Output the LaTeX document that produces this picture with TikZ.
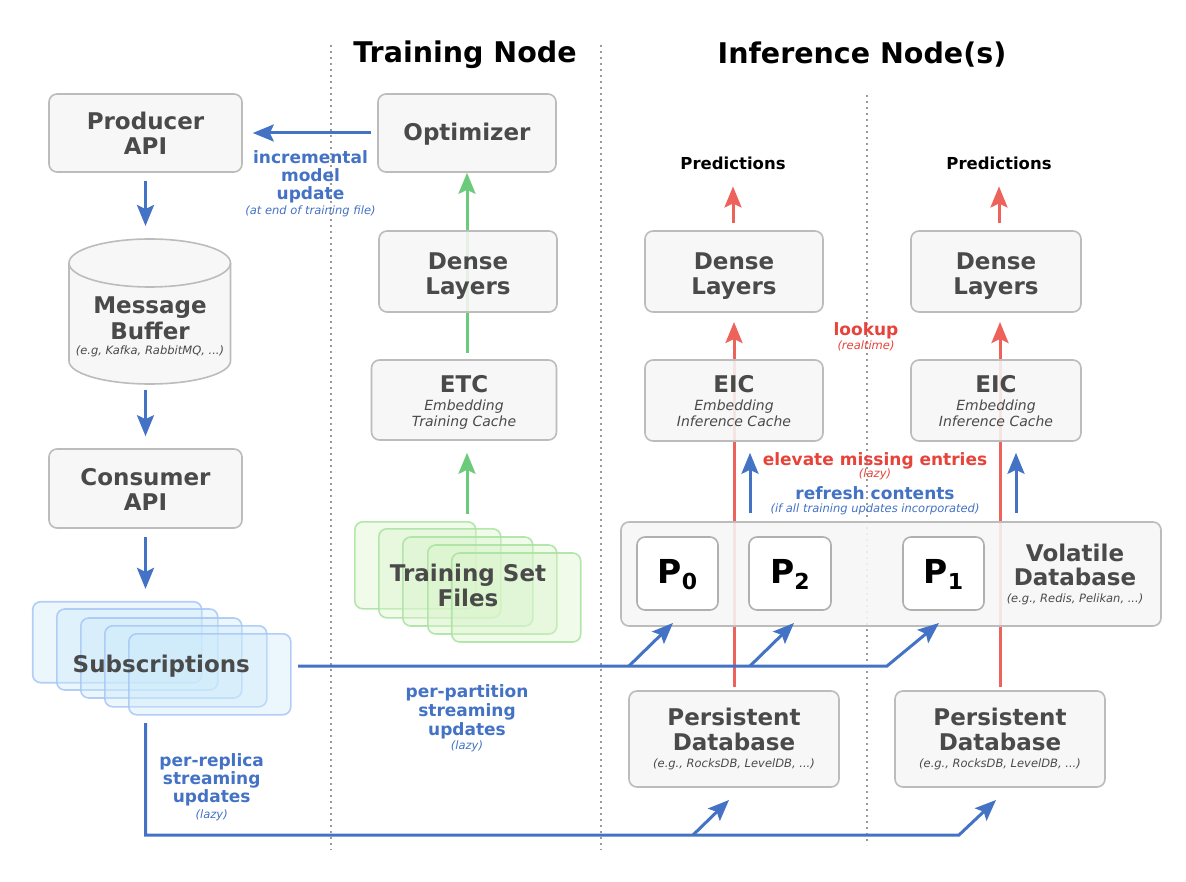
\documentclass[tikz,border=0pt]{standalone}
\usepackage{fontspec}
\setmainfont{DejaVu Sans}
\usetikzlibrary{arrows.meta}
\definecolor{myblue}{HTML}{4472C4}
\definecolor{myred}{HTML}{EE625C}
\definecolor{redtext}{HTML}{E8433B}
\definecolor{mygreen}{HTML}{6BCB7A}
\definecolor{textgray}{HTML}{4A4A4A}
\definecolor{boxline}{HTML}{BCBCBC}
\definecolor{boxfill}{HTML}{F7F7F7}
\definecolor{pline}{HTML}{B0B0B0}
\definecolor{subline}{HTML}{A6C6F6}
\definecolor{subfill}{HTML}{CDEBFB}
\definecolor{trline}{HTML}{A9E2A0}
\definecolor{trfill}{HTML}{DAF5CC}
\definecolor{dotgray}{HTML}{9A9A9A}
\begin{document}
\begin{tikzpicture}[x=1pt,y=-1pt,
  box/.style={draw=boxline,line width=1.6pt,fill=boxfill,fill opacity=0.88,rounded corners=8pt,inner sep=0pt},
  pbox/.style={draw=pline,line width=1.6pt,fill=white,rounded corners=8pt,inner sep=0pt},
  subcard/.style={draw=subline,line width=1.6pt,fill=subfill,fill opacity=0.38,draw opacity=0.85,rounded corners=8pt,inner sep=0pt},
  trcard/.style={draw=trline,line width=1.6pt,fill=trfill,fill opacity=0.4,draw opacity=0.85,rounded corners=8pt,inner sep=0pt},
  ttl/.style={font=\bfseries\fontsize{23}{25}\selectfont,text=textgray,anchor=base,inner sep=0pt},
  bigttl/.style={font=\bfseries\fontsize{28.5}{30}\selectfont,text=black,anchor=base,inner sep=0pt},
  predtxt/.style={font=\bfseries\fontsize{16.5}{18}\selectfont,text=black,anchor=base,inner sep=0pt},
  subt/.style={font=\itshape\fontsize{14}{16}\selectfont,text=textgray,anchor=base,inner sep=0pt},
  smallt/.style={font=\itshape\fontsize{11.5}{13}\selectfont,text=textgray,anchor=base,inner sep=0pt},
  blab/.style={font=\bfseries\fontsize{17}{18}\selectfont,text=myblue,anchor=base,inner sep=0pt},
  bsmall/.style={font=\itshape\fontsize{11.5}{13}\selectfont,text=myblue,anchor=base,inner sep=0pt},
  rlab/.style={font=\bfseries\fontsize{17}{18}\selectfont,text=redtext,anchor=base,inner sep=0pt},
  rsmall/.style={font=\itshape\fontsize{11.5}{13}\selectfont,text=redtext,anchor=base,inner sep=0pt},
  ptxt/.style={font=\bfseries\fontsize{33}{36}\selectfont,text=black,anchor=base,inner sep=0pt},
  headtip/.style={-{Stealth[length=21pt,width=17pt,inset=4pt]}},
  barrow/.style={draw=myblue,line width=3pt,headtip},
  bline/.style={draw=myblue,line width=3pt},
  rarrow/.style={draw=myred,line width=3pt,headtip},
  garrow/.style={draw=mygreen,line width=3pt,headtip},
  divider/.style={draw=dotgray,line width=1.6pt,dash pattern=on 1.6pt off 4.4pt}]
\useasboundingbox[fill=white] (0,0) rectangle (1186,882);

% dividers
\draw[divider] (331,45) -- (331,850);
\draw[divider] (601,45) -- (601,850);
\draw[divider] (867,95) -- (867,845);

% titles
\node[bigttl] (title1) at (465,63) {Training Node};
\node[bigttl] (title2) at (862,64) {Inference Node(s)};

% boxes in front of which nothing passes
\node[box,minimum width=193pt,minimum height=78pt] (prod) at (145.5,133) {};
\node[box,minimum width=178pt,minimum height=78pt] (opt) at (467,133) {};
\node[box,minimum width=193pt,minimum height=79pt] (cons) at (145.5,488.5) {};
\node[box,minimum width=210pt,minimum height=96pt] (pers1) at (734,739) {};
\node[box,minimum width=210pt,minimum height=96pt] (pers2) at (1000,739) {};

% arrows behind boxes
\draw[garrow,shorten <=7pt] (opt.south |- 0,360) coordinate (etcTop) -- (opt.south);
\draw[rarrow,shorten <=3pt,shorten >=10pt] (pers1.north) -- (734,312);
\draw[rarrow,shorten <=3pt,shorten >=10pt] (pers2.north) -- (1000,312);

% remaining boxes
\node[box,minimum width=178pt,minimum height=81pt] (denseT) at (468,271.5) {};
\node[box,minimum width=185pt,minimum height=80pt] (etc) at (464,400) {};
\node[box,minimum width=178pt,minimum height=81pt] (dense1) at (734,271.5) {};
\node[box,minimum width=170pt,minimum height=81pt] (dense2) at (996,271.5) {};
\node[box,minimum width=178pt,minimum height=81pt] (eic1) at (734,400.5) {};
\node[box,minimum width=170pt,minimum height=81pt] (eic2) at (996,400.5) {};
\node[box,minimum width=540pt,minimum height=104pt] (vol) at (891,574) {};
\node[pbox,minimum width=81pt,minimum height=73pt] (p0) at (677.5,573.5) {};
\node[pbox,minimum width=82pt,minimum height=73pt] (p2) at (790,573.5) {};
\node[pbox,minimum width=81pt,minimum height=73pt] (p1) at (943.5,573.5) {};

% message buffer cylinder
\path[draw=boxline,line width=1.6pt,fill=boxfill]
  (69,263) -- (69,361) arc[start angle=180,end angle=0,x radius=80.75,y radius=23]
  -- (230.5,263) arc[start angle=0,end angle=-180,x radius=80.75,y radius=24] -- cycle;
\draw[boxline,line width=1.6pt] (69,263) arc[start angle=180,end angle=0,x radius=80.75,y radius=24];
\coordinate (bufT) at (145.5,239);
\coordinate (bufB) at (145.5,384);

% subscriptions stack
\node[subcard,minimum width=169pt,minimum height=81pt] (s1) at (117.2,642.2) {};
\node[subcard,minimum width=161pt,minimum height=81pt] (s2) at (137.3,649.5) {};
\node[subcard,minimum width=161pt,minimum height=80pt] (s3) at (161.3,658) {};
\node[subcard,minimum width=162pt,minimum height=81pt] (s4) at (185.8,666.3) {};
\node[subcard,minimum width=162pt,minimum height=81pt] (s5) at (209.8,674.3) {};

% training set files stack
\node[trcard,minimum width=121pt,minimum height=87pt] (f1) at (415.3,565.3) {};
\node[trcard,minimum width=122pt,minimum height=89pt] (f2) at (439.8,573.3) {};
\node[trcard,minimum width=130pt,minimum height=89pt] (f3) at (467.8,581.5) {};
\node[trcard,minimum width=129pt,minimum height=89pt] (f4) at (492.3,589.5) {};
\node[trcard,minimum width=129pt,minimum height=89pt] (f5) at (516.2,597.5) {};

% texts in boxes
\node[ttl] (prodT) at (145.5,130) {Producer};
\node[ttl] (prodT2) at (145.5,155) {API};
\node[ttl] (optT) at (467,141) {Optimizer};
\node[ttl] (dTa) at (468,270) {Dense};
\node[ttl] (dTb) at (468,295) {Layers};
\node[ttl] (etcT) at (464,392) {ETC};
\node[subt] (etcS1) at (464,410) {Embedding};
\node[subt] (etcS2) at (464,426) {Training Cache};
\node[ttl] (mbA) at (150,314) {Message};
\node[ttl] (mbB) at (150,340) {Buffer};
\node[smallt] (mbC) at (150,355) {(e.g, Kafka, RabbitMQ, ...)};
\node[ttl] (consA) at (145.5,485) {Consumer};
\node[ttl] (consB) at (145.5,510) {API};
\node[ttl] (subsT) at (161.3,672.7) {Subscriptions};
\node[ttl] (trA) at (468,581) {Training Set};
\node[ttl] (trB) at (468,606) {Files};

\node[predtxt] (pred1) at (733,170) {Predictions};
\node[predtxt] (pred2) at (999,170) {Predictions};
\node[ttl] (d1a) at (734,270) {Dense};
\node[ttl] (d1b) at (734,295) {Layers};
\node[ttl] (d2a) at (996,270) {Dense};
\node[ttl] (d2b) at (996,295) {Layers};
\node[ttl] (e1a) at (734,392) {EIC};
\node[subt] (e1b) at (734,410) {Embedding};
\node[subt] (e1c) at (734,426) {Inference Cache};
\node[ttl] (e2a) at (996,392) {EIC};
\node[subt] (e2b) at (996,410) {Embedding};
\node[subt] (e2c) at (996,426) {Inference Cache};
\node[ptxt] (p0t) at (p0 |- 0,583) {P\raisebox{-6pt}{\fontsize{22}{24}\selectfont 0}};
\node[ptxt] (p2t) at (p2 |- 0,583) {P\raisebox{-6pt}{\fontsize{22}{24}\selectfont 2}};
\node[ptxt] (p1t) at (p1 |- 0,583) {P\raisebox{-6pt}{\fontsize{22}{24}\selectfont 1}};
\node[ttl] (vA) at (1075,561) {Volatile};
\node[ttl] (vB) at (1075,585.5) {Database};
\node[smallt] (vC) at (1075,602) {(e.g., Redis, Pelikan, ...)};
\node[ttl] (pA1) at (734,725.7) {Persistent};
\node[ttl] (pB1) at (734,750) {Database};
\node[smallt] (pC1) at (734,767) {(e.g., RocksDB, LevelDB, ...)};
\node[ttl] (pA2) at (1000,725.7) {Persistent};
\node[ttl] (pB2) at (1000,750) {Database};
\node[smallt] (pC2) at (1000,767) {(e.g., RocksDB, LevelDB, ...)};

% arrows (left column)
\draw[barrow,shorten <=6pt,shorten >=10pt] (opt.west) -- (prod.east);
\draw[barrow,shorten <=8pt,shorten >=13pt] (prod.south) -- (bufT);
\draw[barrow,shorten <=6pt,shorten >=12pt] (bufB) -- (cons.north);
\draw[barrow,shorten <=8pt,shorten >=12pt] (cons.south) -- (cons.south |- s1.north);

% green
\coordinate (filesTop) at (467,522);
\draw[garrow,shorten <=8pt,shorten >=12pt] (filesTop) -- (filesTop |- etc.south);

% red to predictions
\draw[rarrow,shorten <=7pt,shorten >=16pt] (dense1.north -| pred1) -- (pred1.south);
\draw[rarrow,shorten <=7pt,shorten >=16pt] (dense2.north -| pred2) -- (pred2.south);

% refresh arrows
\coordinate (rf1) at (750,522);
\coordinate (rf2) at (1016,522);
\draw[barrow,shorten <=9pt,shorten >=11pt] (rf1) -- (rf1 |- eic1.south);
\draw[barrow,shorten <=9pt,shorten >=11pt] (rf2) -- (rf2 |- eic2.south);

% per-partition
\coordinate (subR) at (298,666);
\coordinate (jP0) at (629,666);
\coordinate (jP2) at (750,666);
\coordinate (jP1) at (887,666);
\coordinate (aP0) at (673,623);
\coordinate (aP2) at (794,623);
\coordinate (aP1) at (939,623);
\draw[barrow,line join=miter] (subR) -- (jP1) -- (aP1);
\draw[barrow] (jP0) -- (aP0);
\draw[barrow] (jP2) -- (aP2);

% per-replica
\coordinate (subB) at (145.5,723);
\coordinate (cBL) at (145.5,835);
\coordinate (jR1) at (693,835);
\coordinate (jR2) at (959,835);
\coordinate (aR1) at (729,800);
\coordinate (aR2) at (996,800);
\draw[barrow,line join=miter] (subB) -- (cBL) -- (jR2) -- (aR2);
\draw[barrow] (jR1) -- (aR1);

% labels
\node[blab] (l1a) at (310.5,163.3) {incremental};
\node[blab] (l1b) at (310.5,181.7) {model};
\node[blab] (l1c) at (310.5,200) {update};
\node[bsmall] (l1d) at (310.5,215) {(at end of training file)};

\node[rlab] (l2a) at (866,336) {lookup};
\node[rsmall] (l2b) at (866,349.3) {(realtime)};
\node[rlab] (l3a) at (875,465) {elevate missing entries};
\node[rsmall] (l3b) at (875,477.7) {(lazy)};
\node[blab] (l4a) at (875,499) {refresh contents};
\node[bsmall] (l4b) at (875,512.3) {(if all training updates incorporated)};

\node[blab] (l5a) at (467,697) {per-partition};
\node[blab] (l5b) at (467,716) {streaming};
\node[blab] (l5c) at (467,735) {updates};
\node[bsmall] (l5d) at (467,749) {(lazy)};

\node[blab] (l6a) at (211.7,766.7) {per-replica};
\node[blab] (l6b) at (211.7,784.5) {streaming};
\node[blab] (l6c) at (211.7,802.7) {updates};
\node[bsmall] (l6d) at (211.7,818) {(lazy)};
\end{tikzpicture}
\end{document}
